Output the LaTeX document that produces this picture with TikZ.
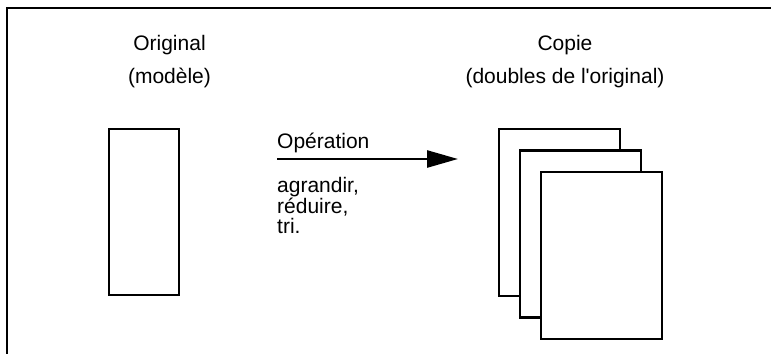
\documentclass[tikz,border=0pt]{standalone}
\usepackage{fontspec}
\setmainfont{Liberation Sans}[Ligatures=TeXOff]
\usetikzlibrary{arrows.meta}

\tikzset{
  label text/.style={inner sep=0pt, anchor=base, font=\fontsize{21}{21}\selectfont},
  list text/.style={inner sep=0pt, anchor=base west, font=\fontsize{21}{21}\selectfont},
  sheet/.style={draw=black, fill=white, line width=2.2pt, inner sep=0pt, minimum width=121pt, minimum height=167pt},
  frame line/.style={line width=2pt},
  op arrow/.style={line width=2.6pt, -{Triangle[length=31pt,width=17pt]}}
}

\begin{document}
\begin{tikzpicture}[x=1pt, y=-1pt]
  \useasboundingbox (0,0) rectangle (771,354);

  % outer frame (top and left edges)
  \draw[frame line] (771,8) -- (7,8) -- (7,354);

  % headings
  \node[label text] (origtitle) at (169.5,50) {Original};
  \node[label text] (origsub)   at (169.5,83) {(modèle)};
  \node[label text] (copytitle) at (565,50) {Copie};
  \node[label text] (copysub)   at (565,83) {(doubles de l'original)};

  % the original sheet
  \node[sheet, minimum width=70pt, minimum height=166pt] (orig) at (144,212) {};

  % stacked copies, back to front
  \node[sheet] (copyA) at (559.5,212.5) {};
  \node[sheet] (copyB) at (580.5,234) {};
  \node[sheet] (copyC) at (601.5,255.5) {};

  % operation arrow and its labels
  \coordinate (opstart) at (277,159);
  \coordinate (opend) at (458,159);
  \draw[op arrow] (opstart) -- (opend);

  \node[list text] (optitle) at (277,148) {Opération};
  \node[list text] (opA) at (277,192) {agrandir,};
  \node[list text] (opB) at (277,213) {réduire,};
  \node[list text] (opC) at (277,233) {tri.};
\end{tikzpicture}
\end{document}
